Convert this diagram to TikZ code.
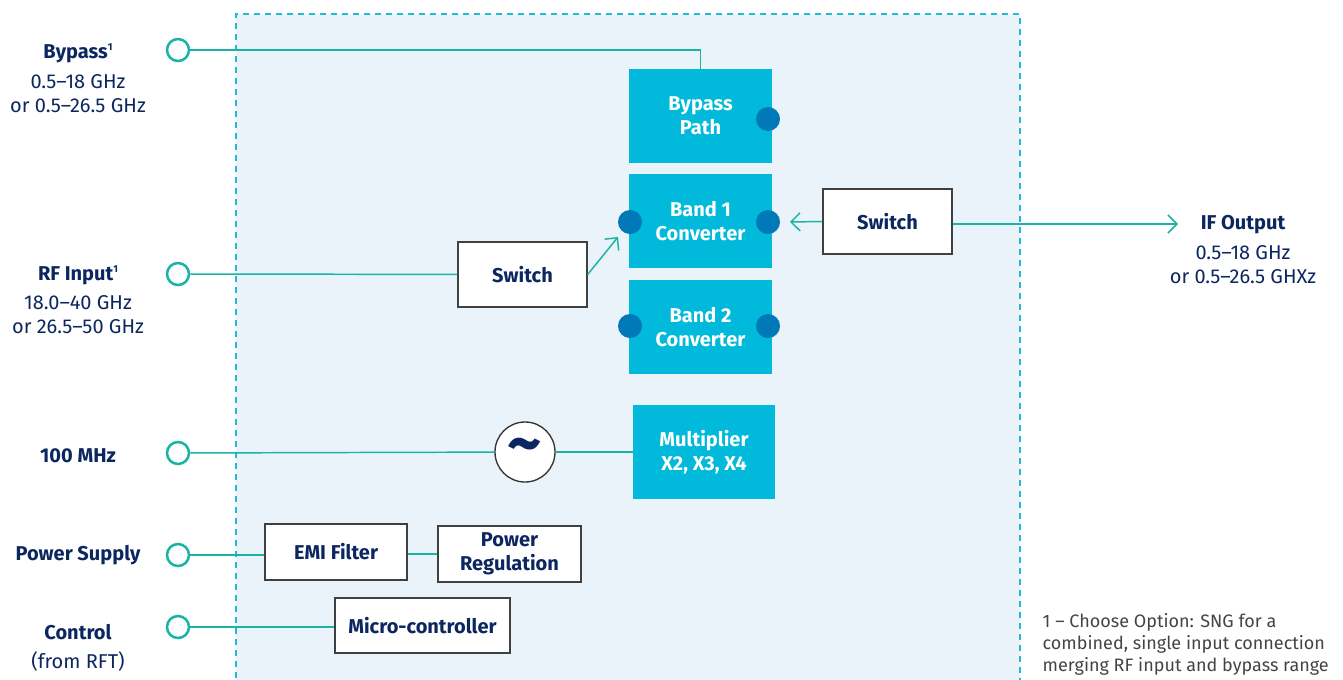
\documentclass[tikz,border=0pt]{standalone}
\usepackage{amsmath}
\usepackage{fontspec}
\setmainfont{Fira Sans}
\usetikzlibrary{arrows.meta}

\definecolor{navy}{HTML}{0C2660}
\definecolor{wirec}{HTML}{19B4A4}
\definecolor{cyanbox}{HTML}{00B9DB}
\definecolor{dotblue}{HTML}{0079B8}
\definecolor{bgblue}{HTML}{EAF3FA}
\definecolor{dashc}{HTML}{22B9D8}
\definecolor{notec}{HTML}{444444}

\newcommand{\fn}{\raisebox{0.75ex}{\fontsize{7.5}{7.5}\selectfont 1}}

\tikzset{
  port/.style={circle,draw=wirec,line width=1.9pt,fill=white,minimum size=16.5pt,inner sep=0pt},
  wbox/.style={draw=black!75,fill=white,line width=1pt,font=\fontsize{15}{18}\selectfont\bfseries,text=navy,align=center,inner sep=0pt},
  cbox/.style={fill=cyanbox,text=white,font=\fontsize{15}{18}\selectfont\bfseries,align=center,minimum width=107.25pt,minimum height=70.5pt,inner sep=0pt},
  bdot/.style={circle,fill=dotblue,minimum size=18pt,inner sep=0pt},
  wire/.style={draw=wirec,line width=1.1pt},
  lbl/.style={text=navy,font=\fontsize{15}{18}\selectfont\bfseries,align=center},
  sub/.style={text=navy,font=\fontsize{15}{18}\selectfont,align=center},
  tip/.style={-{Straight Barb[length=6.75pt,width=13.5pt]}}
}

\begin{document}
\begin{tikzpicture}[x=0.75pt,y=-0.75pt]
  \useasboundingbox (0,0) rectangle (1343,679);
  \begin{scope}
    \clip (0,0) rectangle (1343,679);
    \fill[bgblue] (236,14) rectangle (1020,700);
    \draw[dashc,line width=1.1pt,dash pattern=on 4.5pt off 3.75pt] (236,700) -- (236,14) -- (1020,14) -- (1020,700);
  \end{scope}

  % left labels
  \node[lbl] (tbyp) at (78,53) {Bypass\fn};
  \node[sub] (sbyp) at (78,94) {0.5--18 GHz\\or 0.5--26.5 GHz};
  \node[lbl] (trf) at (78,275) {RF Input\fn};
  \node[sub] (srf) at (78,315) {18.0--40 GHz\\or 26.5--50 GHz};
  \node[lbl] (tclk) at (78,456) {100 MHz};
  \node[lbl] (tpwr) at (78,555) {Power Supply};
  \node[lbl] (tctl) at (78,632) {Control};
  \node[sub] (sctl) at (78,661) {(from RFT)};

  % ports
  \node[port] (pbyp) at (178,50) {};
  \node[port] (prf) at (178,274) {};
  \node[port] (pclk) at (178,453) {};
  \node[port] (ppwr) at (178,555) {};
  \node[port] (pctl) at (178,627) {};

  % converter blocks
  \node[cbox] (bp) at (700.5,116) {Bypass\\Path};
  \node[cbox] (b1) at (700.5,221) {Band 1\\Converter};
  \node[cbox] (b2) at (700.5,327) {Band 2\\Converter};
  \node[cbox,minimum width=106.5pt] (mul) at (704,452) {Multiplier\\X2, X3, X4};

  \node[bdot] (dbp) at (768,119) {};
  \node[bdot] (d1l) at (630,222) {};
  \node[bdot] (d1r) at (768,222) {};
  \node[bdot] (d2l) at (630,326) {};
  \node[bdot] (d2r) at (768,326) {};

  % white blocks
  \node[wbox,minimum width=96.75pt,minimum height=48.75pt] (sw1) at (522.5,274.5) {Switch};
  \node[wbox,minimum width=96.75pt,minimum height=48.75pt] (sw2) at (887.5,221.5) {Switch};
  \node[circle,draw=black!80,fill=white,line width=1pt,minimum size=45pt,inner sep=0pt,text=navy,font=\fontsize{50}{50}\selectfont\bfseries] (osc) at (525,452) {\raisebox{-0.1em}{\textasciitilde}};
  \node[wbox,minimum width=106.5pt,minimum height=42pt] (emi) at (336,552) {EMI Filter};
  \node[wbox,minimum width=107.25pt,minimum height=42pt] (reg) at (509.5,554) {Power\\Regulation};
  \node[wbox,minimum width=131.25pt,minimum height=41.25pt] (mcu) at (422.5,625.5) {Micro-controller};

  % IF output
  \node[lbl] (tif) at (1243,225) {IF Output};
  \node[sub] (sif) at (1243,265) {0.5--18 GHz\\or 0.5--26.5 GHXz};
  \coordinate (ifo) at (1178,224);
  \coordinate (b1in) at (618,237);
  \coordinate (b1out) at (790,222);

  % connectors
  \draw[wire] (pbyp) -| (bp.north);
  \draw[wire] (prf) -- (sw1);
  \draw[wire,tip] (sw1.east) -- (b1in);
  \draw[wire,tip] (sw2.west) -- (b1out);
  \draw[wire,tip] (sw2.east |- ifo) -- (ifo);
  \draw[wire] (pclk) -- (osc);
  \draw[wire] (osc) -- (mul);
  \draw[wire] (ppwr) -- (ppwr -| emi.west);
  \draw[wire] (emi.east |- reg) -- (reg);
  \draw[wire] (pctl) -- (pctl -| mcu.west);

  % footnote
  \node[text=notec,font=\fontsize{13.5}{16.5}\selectfont,align=left,anchor=north west] (note) at (1038,609) {1 -- Choose Option: SNG for a\\combined, single input connection\\merging RF input and bypass range};
\end{tikzpicture}
\end{document}
